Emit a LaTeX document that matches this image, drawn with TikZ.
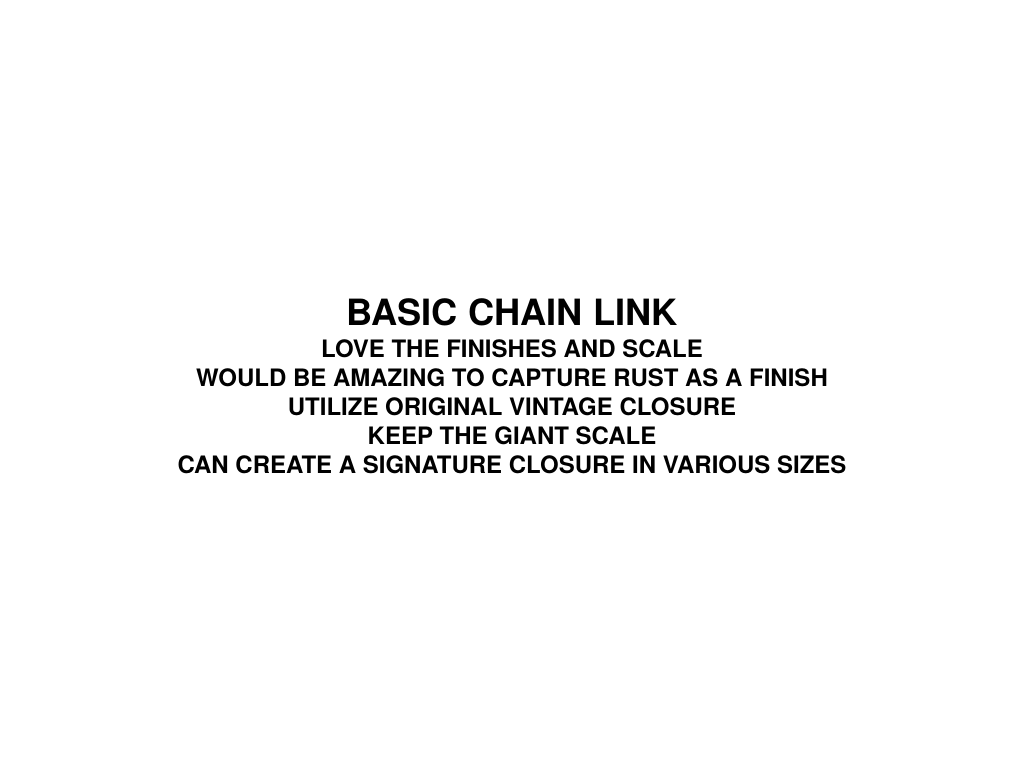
\documentclass[tikz,border=0pt]{standalone}
\usepackage{fontspec}
\setmainfont{TeX Gyre Heros}

\begin{document}
\begin{tikzpicture}[x=1pt,y=1pt]
  \tikzset{title/.style={anchor=base,inner sep=0pt,font=\fontsize{36.2}{40}\selectfont\bfseries},
    note/.style={anchor=base,inner sep=0pt,font=\fontsize{24}{28}\selectfont\bfseries}}
  \useasboundingbox[fill=white] (0,0) rectangle (1024,768);
  \node[title] (head) at (512,442) {BASIC CHAIN LINK};
  \node[note] (finish) at (512,410) {LOVE THE FINISHES AND SCALE};
  \node[note] (rust) at (512,381) {WOULD BE AMAZING TO CAPTURE RUST AS A FINISH};
  \node[note] (closure) at (512,352) {UTILIZE ORIGINAL VINTAGE CLOSURE};
  \node[note] (scale) at (512,323) {KEEP THE GIANT SCALE};
  \node[note] (sizes) at (512,294) {CAN CREATE A SIGNATURE CLOSURE IN VARIOUS SIZES};
\end{tikzpicture}
\end{document}
